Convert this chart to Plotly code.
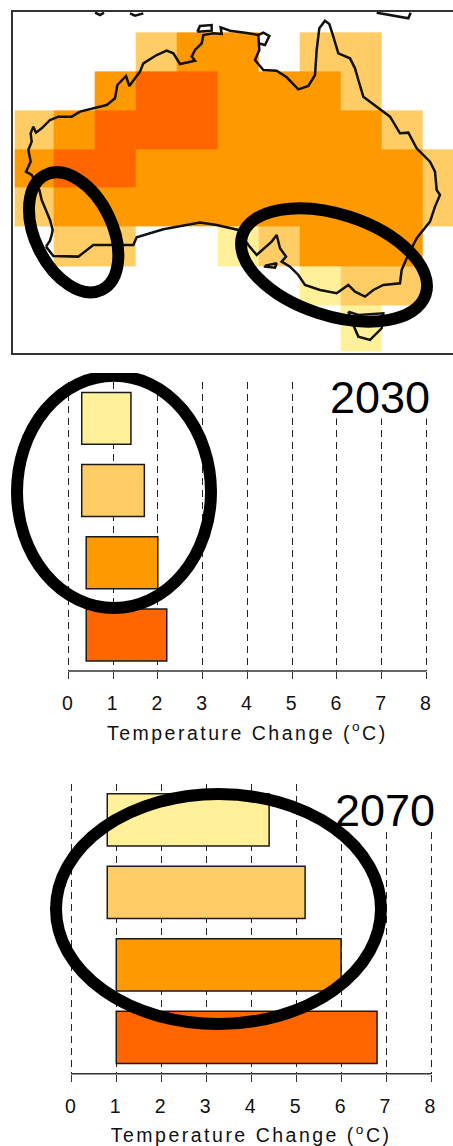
import plotly.graph_objects as go
import math

W, H = 453, 1146

# ---------- data ----------
level_colors = ["#FFF099", "#FFCC66", "#FF9900", "#FF6600"]
temperature_ticks = [0, 1, 2, 3, 4, 5, 6, 7, 8]
scenario_rows = [0, 1, 2, 3]

low_2030 = [0.3, 0.3, 0.4, 0.4]
high_2030 = [1.4, 1.7, 2.0, 2.2]
low_2070 = [0.8, 0.8, 1.0, 1.0]
high_2070 = [4.4, 5.2, 6.0, 6.8]

# map grid (map units); levels 1-4 index level_colors
grid_x = [44, 160, 284, 407, 530, 653, 776, 899, 1022, 1145, 1268, 1390]
grid_y = [97, 213, 330, 447, 562, 680, 798, 915, 1055]
_ = None
grid_levels = [
    [_, _, _, 2, 3, 3, _, 2, 2, _, _],
    [_, _, 3, 4, 4, 3, 3, 3, 2, _, _],
    [2, 3, 4, 4, 4, 3, 3, 3, 3, 2, _],
    [3, 4, 4, 3, 3, 3, 3, 3, 3, 3, 2],
    [2, 3, 3, 3, 3, 3, 3, 3, 3, 3, 2],
    [_, 2, 2, _, _, 1, 2, 3, 3, 3, _],
    [_, _, _, _, _, _, _, 1, 2, 2, _],
    [_, _, _, _, _, _, _, _, 1, _, _],
]

coast_main_x = [138, 150, 155, 158, 150, 135, 125, 118, 105, 95, 78, 85, 92, 88, 85, 95, 92, 100, 108, 125, 150, 175, 215, 240, 285, 320, 345, 352, 378, 388, 405, 420, 430, 470, 500, 520, 540, 585, 575, 585, 605, 610, 640, 665, 662, 690, 735, 775, 778, 765, 790, 830, 860, 895, 925, 945, 950, 958, 975, 988, 1000, 1015, 1050, 1065, 1075, 1090, 1130, 1170, 1200, 1225, 1250, 1290, 1305, 1310, 1320, 1305, 1290, 1250, 1220, 1205, 1200, 1150, 1120, 1095, 1065, 1045, 1010, 960, 915, 895, 870, 845, 858, 840, 830, 815, 770, 745, 715, 650, 600, 540, 490, 410, 400, 340, 280, 235, 160, 138]
coast_main_y = [740, 722, 705, 690, 660, 625, 600, 570, 545, 525, 515, 500, 485, 465, 450, 425, 400, 380, 398, 385, 360, 350, 350, 335, 325, 315, 295, 255, 228, 258, 235, 215, 190, 165, 152, 160, 192, 182, 170, 150, 130, 105, 100, 102, 82, 92, 98, 105, 150, 180, 210, 212, 232, 268, 258, 225, 150, 85, 62, 72, 110, 160, 175, 205, 240, 290, 320, 350, 400, 398, 445, 485, 515, 570, 585, 620, 665, 715, 775, 810, 850, 855, 870, 890, 875, 855, 880, 870, 855, 825, 800, 785, 770, 745, 705, 725, 765, 735, 690, 675, 668, 680, 688, 712, 735, 735, 735, 770, 768, 740]
tasmania_x = [1045, 1075, 1150, 1145, 1110, 1075, 1060, 1045]
tasmania_y = [935, 945, 940, 985, 1020, 1010, 975, 935]
kangaroo_x = [795, 830, 825, 795, 795]
kangaroo_y = [797, 790, 803, 800, 797]
melville_x = [592, 600, 635, 635, 592]
melville_y = [95, 78, 75, 92, 95]
groote_x = [775, 790, 808, 795, 775]
groote_y = [105, 98, 108, 135, 130]
guinea_a_x = [285, 300, 312]
guinea_a_y = [38, 45, 38]
guinea_b_x = [390, 405, 430]
guinea_b_y = [40, 47, 40]
guinea_c_x = [1130, 1200, 1225, 1232]
guinea_c_y = [38, 50, 55, 38]

# ---------- helpers ----------
def fx(px):
    return px / W

def fy(px):
    return 1 - px / H

def ellipse_path(cx, cy, rx, ry, deg):
    t = math.radians(deg)
    k = 0.5523
    def p(u, v):
        return f"{cx + u*rx*math.cos(t) - v*ry*math.sin(t):.1f},{cy + u*rx*math.sin(t) + v*ry*math.cos(t):.1f}"
    return (f"M {p(1,0)} C {p(1,k)} {p(k,1)} {p(0,1)} C {p(-k,1)} {p(-1,k)} {p(-1,0)} "
            f"C {p(-1,-k)} {p(-k,-1)} {p(0,-1)} C {p(k,-1)} {p(1,-k)} {p(1,0)} Z")

FONT = "Liberation Sans, Arial, sans-serif"
fig = go.Figure()

# ---------- map ----------
n = len(level_colors)
scale = []
for i, c in enumerate(level_colors):
    scale += [[i / n, c], [(i + 1) / n, c]]
fig.add_trace(go.Heatmap(x=grid_x, y=grid_y, z=grid_levels, zmin=1, zmax=4, colorscale=scale,
                         showscale=False, hoverinfo="skip", xaxis="x", yaxis="y"))
for xs, ys in [(coast_main_x, coast_main_y), (tasmania_x, tasmania_y), (kangaroo_x, kangaroo_y),
               (melville_x, melville_y), (groote_x, groote_y), (guinea_a_x, guinea_a_y),
               (guinea_b_x, guinea_b_y), (guinea_c_x, guinea_c_y)]:
    fig.add_trace(go.Scatter(x=xs, y=ys, mode="lines", line=dict(color="#111111", width=2.5),
                             hoverinfo="skip", showlegend=False, xaxis="x", yaxis="y"))

# ---------- range bars ----------
def add_bars(low, high, xa, ya):
    fig.add_trace(go.Bar(y=scenario_rows, x=[h - l for h, l in zip(high, low)], base=low,
                         orientation="h", width=0.72,
                         marker=dict(color=level_colors, line=dict(color="#1a1a1a", width=1.5)),
                         hoverinfo="skip", showlegend=False, xaxis=xa, yaxis=ya))

add_bars(low_2030, high_2030, "x2", "y2")
add_bars(low_2070, high_2070, "x3", "y3")

PAD = 0.05

def temp_axis(px0, px1, anchor):
    per_unit = (px1 - px0) / 8
    return dict(domain=[fx(px0 - PAD * per_unit), fx(px1 + PAD * per_unit)],
                range=[-PAD, 8 + PAD], anchor=anchor, tickvals=temperature_ticks,
                automargin=False,
                ticks="outside", ticklen=7, tickwidth=1, tickcolor="#333333",
                showline=False,
                showgrid=True, gridcolor="#222222", gridwidth=1, griddash="7px,5px",
                zeroline=False, ticklabelstandoff=8, ticklabelshift=-1,
                tickfont=dict(family=FONT, size=19.5, color="#111111"),
                title=dict(text="Temperature Change (<sup>o</sup>C)", standoff=12,
                           font=dict(family=FONT, size=19.5, color="#111111")))

def row_axis(domain, anchor):
    return dict(domain=domain, range=[3.5, -0.5], anchor=anchor, showticklabels=False,
                automargin=False,
                ticks="", showgrid=False, zeroline=False, showline=False)

shapes = [
    # white patches that interrupt the gridlines behind the year labels
    dict(type="rect", xref="x2", yref="y2", layer="between", x0=5.5, x1=8.2, y0=-0.6, y1=0,
         fillcolor="white", line_width=0),
    dict(type="rect", xref="x3", yref="y3", layer="between", x0=5.5, x1=8.2, y0=-0.6, y1=0.166,
         fillcolor="white", line_width=0),
    # axis baselines, exactly 0 to 8
    dict(type="line", xref="x2", yref="paper", x0=0, x1=8, y0=fy(671), y1=fy(671),
         line=dict(color="#333333", width=1.5)),
    dict(type="line", xref="x3", yref="paper", x0=0, x1=8, y0=fy(1073.7), y1=fy(1073.7),
         line=dict(color="#333333", width=1.5)),
    # emphasis rings
    dict(type="path", xref="x", yref="y", path=ellipse_path(221, 697, 192, 116, 64),
         line=dict(color="black", width=12)),
    dict(type="path", xref="x", yref="y", path=ellipse_path(1002, 795, 289, 152, 18),
         line=dict(color="black", width=12)),
    dict(type="circle", xref="paper", yref="paper", x0=fx(17), x1=fx(211), y0=fy(608), y1=fy(375.7),
         line=dict(color="black", width=12)),
    dict(type="rect", xref="paper", yref="paper", x0=0, x1=1, y0=fy(373), y1=fy(360),
         fillcolor="white", line_width=0),
    dict(type="circle", xref="paper", yref="paper", x0=fx(56), x1=fx(381), y0=fy(1024), y1=fy(794),
         line=dict(color="black", width=12)),
]

annotations = [
    dict(text="2030", xref="paper", yref="paper", x=fx(379.5), y=fy(397), showarrow=False,
         xanchor="center", yanchor="middle",
         font=dict(family=FONT, size=45, color="black")),
    dict(text="2070", xref="paper", yref="paper", x=fx(384.5), y=fy(810), showarrow=False,
         xanchor="center", yanchor="middle",
         font=dict(family=FONT, size=45, color="black")),
]

fig.update_layout(
    width=W, height=H, autosize=False, margin=dict(l=0, r=0, t=0, b=0),
    paper_bgcolor="white", plot_bgcolor="rgba(0,0,0,0)", showlegend=False,
    bargap=0.28,
    xaxis=dict(domain=[fx(12.5), 1], range=[37.5, 1359], anchor="y", automargin=False,
               showticklabels=False, ticks="", showgrid=False, zeroline=False,
               showline=True, mirror=True, linecolor="#333333", linewidth=2),
    yaxis=dict(domain=[fy(352.6), fy(12)], range=[1058, 36], anchor="x", automargin=False,
               showticklabels=False, ticks="", showgrid=False, zeroline=False,
               showline=True, linecolor="#333333", linewidth=2),
    xaxis2=temp_axis(68.3, 426.3, "y2"),
    yaxis2=row_axis([fy(671), fy(382.3)], "x2"),
    xaxis3=temp_axis(71.3, 431, "y3"),
    yaxis3=row_axis([fy(1073.7), fy(783.7)], "x3"),
    shapes=shapes,
    annotations=annotations,
)

fig.write_html(
    "out.html",
    config={"displayModeBar": False},
    post_script=(
        "document.body.style.margin='0';"
        "document.querySelectorAll('.x2title,.x3title').forEach(function(e){e.style.letterSpacing='2.5px';});"
    ),
)
